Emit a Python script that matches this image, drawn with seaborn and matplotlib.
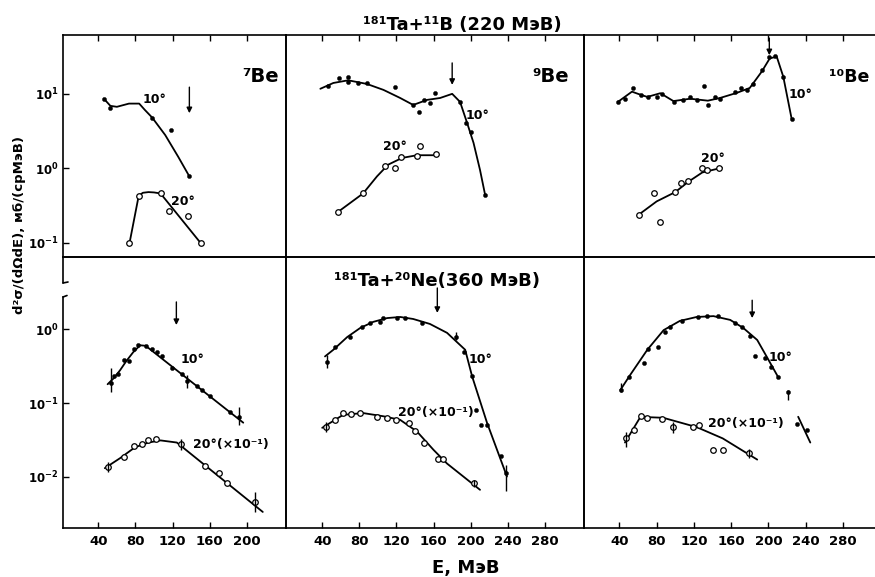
import matplotlib
matplotlib.use("Agg")
import matplotlib.pyplot as plt
from matplotlib.lines import Line2D
from matplotlib.ticker import NullLocator
import seaborn as sns

# ---------------- 181Ta + 11B (220 MeV) ----------------
# 7Be
b7_10_E = [46, 53, 98, 118, 138]
b7_10_y = [8.6, 6.5, 4.8, 3.3, 0.78]
b7_10_fitE = [46, 53, 60, 73, 84, 90, 98, 112, 126, 138]
b7_10_fit = [8.6, 6.9, 6.7, 7.4, 7.4, 6.1, 4.8, 2.8, 1.43, 0.78]
b7_20_E = [73.5, 83.5, 107, 116, 137, 150]
b7_20_y = [0.098, 0.43, 0.46, 0.27, 0.23, 0.10]
b7_20_fitE = [73.5, 83.5, 88, 94, 100, 107, 150]
b7_20_fit = [0.098, 0.43, 0.47, 0.48, 0.475, 0.46, 0.10]
b7_arrow_E = 138

# 9Be
b9_10_E = [46, 58, 68, 68, 79, 88, 118, 138, 144, 150, 156, 161, 188, 195, 200, 215]
b9_10_y = [12.8, 16.3, 17, 14.5, 14, 14, 12.4, 7.1, 5.7, 8.3, 7.6, 10.3, 7.8, 4.1, 3.1, 0.44]
b9_10_fitE = [38, 52, 68, 88, 106, 124, 138, 153, 167, 180, 188.5, 196, 203, 210, 215.5]
b9_10_fit = [11.7, 14, 15.2, 13.6, 11.3, 8.8, 7.1, 8.3, 8.8, 10, 7.8, 4.1, 2.2, 0.95, 0.44]
b9_20_E = [57, 84, 108, 118, 125, 142, 145, 163]
b9_20_y = [0.26, 0.46, 1.07, 1.0, 1.4, 1.45, 2.0, 1.55]
b9_20_fitE = [57, 84, 99, 111, 126, 142, 163, 165]
b9_20_fit = [0.26, 0.46, 0.78, 1.12, 1.38, 1.5, 1.5, 1.48]
b9_arrow_E = 180

# 10Be
b10_10_E = [39, 46, 55, 63, 71, 80, 86, 99, 108, 116, 123, 131, 135, 143, 148,
            164, 171, 177, 184, 193, 201, 207, 216, 225]
b10_10_y = [7.8, 8.6, 12, 9.7, 9.1, 9.1, 10, 7.8, 8.3, 9.1, 8.3, 12.8, 7.1, 9.1, 8.6,
            10.7, 12, 11.3, 13.6, 21, 31, 32, 17, 4.6]
b10_10_fitE = [39, 53.5, 63, 70, 84, 98, 116, 135, 148, 166, 180, 193, 201.5, 209, 216, 225]
b10_10_fit = [7.9, 10.7, 9.7, 9.1, 10.2, 8.0, 8.6, 8.1, 8.8, 10.3, 12, 20, 30, 31.5, 17, 4.6]
b10_20_E = [61, 77, 84, 100, 106, 114, 129, 134, 147]
b10_20_y = [0.24, 0.47, 0.19, 0.48, 0.63, 0.68, 1.0, 0.96, 1.0]
b10_20_fitE = [61, 80, 100, 114, 129, 150]
b10_20_fit = [0.24, 0.36, 0.48, 0.66, 0.88, 1.02]
b10_arrow_E = 201

# ---------------- 181Ta + 20Ne (360 MeV) ----------------
# 7Be
n7_10_E = [53.5, 57, 61, 67.5, 73, 78, 83, 91, 98, 103.5, 108.5, 119, 130, 135.5,
           146, 151.5, 160.5, 182, 191]
n7_10_y = [0.19, 0.23, 0.25, 0.39, 0.37, 0.54, 0.61, 0.59, 0.54, 0.49, 0.43, 0.30,
           0.25, 0.20, 0.17, 0.15, 0.126, 0.076, 0.065]
n7_10_fitE = [50, 57, 63.5, 70, 77.5, 85, 91, 196]
n7_10_fit = [0.18, 0.22, 0.28, 0.37, 0.49, 0.61, 0.60, 0.054]
n7_10_errE = [53.5, 135.5, 191]
n7_10_errlo = [0.14, 0.16, 0.05]
n7_10_errhi = [0.30, 0.24, 0.088]
n7_20_E = [50, 67.5, 78, 86.5, 94, 102, 128.5, 155, 170, 178, 209]
n7_20_y = [0.0134, 0.0186, 0.026, 0.028, 0.031, 0.032, 0.028, 0.0138, 0.011, 0.0081, 0.0045]
n7_20_fitE = [47, 63.5, 79.5, 94, 107, 124.5, 217]
n7_20_fit = [0.013, 0.0178, 0.025, 0.029, 0.031, 0.029, 0.0033]
n7_20_errE = [50, 128.5, 209]
n7_20_errlo = [0.0114, 0.023, 0.0033]
n7_20_errhi = [0.0157, 0.032, 0.0061]
n7_arrow_E = 124

# 9Be
n9_10_E = [45, 54, 70, 82.5, 91, 102, 106, 121, 129, 147, 184, 193, 201, 206, 211.5, 217, 233, 238.5]
n9_10_y = [0.36, 0.58, 0.79, 1.08, 1.22, 1.26, 1.43, 1.43, 1.43, 1.22, 0.79, 0.49,
           0.23, 0.080, 0.050, 0.051, 0.019, 0.011]
n9_10_fitE = [43, 52, 67, 81, 95, 110, 124, 138, 156, 174.5, 194, 201.5, 217.5, 239]
n9_10_fit = [0.43, 0.53, 0.79, 1.05, 1.27, 1.43, 1.48, 1.39, 1.19, 0.90, 0.53, 0.23, 0.054, 0.010]
n9_10_errE = [45, 184, 238.5]
n9_10_errlo = [0.30, 0.72, 0.0063]
n9_10_errhi = [0.45, 0.92, 0.0144]
n9_20_E = [44, 54, 62, 71, 80.5, 99, 109.5, 120, 133, 140, 149.5, 164.5, 170, 204]
n9_20_y = [0.047, 0.059, 0.073, 0.071, 0.073, 0.065, 0.063, 0.059, 0.054, 0.042,
           0.029, 0.0174, 0.0174, 0.0081]
n9_20_fitE = [40, 62.5, 84, 106, 124, 142, 160, 174.5, 210]
n9_20_fit = [0.046, 0.069, 0.073, 0.066, 0.059, 0.041, 0.023, 0.015, 0.0066]
n9_20_errE = [44, 204]
n9_20_errlo = [0.040, 0.0072]
n9_20_errhi = [0.055, 0.0090]
n9_arrow_E = 164

# 10Be
n10_10_E = [42, 50.5, 66.5, 71, 81.5, 89, 94.5, 107, 124.5, 134, 146, 164, 172, 180.5,
            186, 196.5, 203, 210.5, 221, 231, 241.5]
n10_10_y = [0.15, 0.225, 0.35, 0.54, 0.58, 0.93, 1.08, 1.31, 1.48, 1.53, 1.53, 1.22,
            1.08, 0.82, 0.44, 0.41, 0.31, 0.225, 0.141, 0.052, 0.043]
n10_10_fitE = [41, 51.5, 70, 87.5, 105, 123, 141, 159, 173, 188, 198.5, 210.5]
n10_10_fit = [0.15, 0.24, 0.53, 0.98, 1.31, 1.48, 1.52, 1.35, 1.05, 0.72, 0.42, 0.225]
n10_10_tailE = [232, 245]
n10_10_tail = [0.065, 0.029]
n10_10_errE = [42, 221]
n10_10_errlo = [0.14, 0.11]
n10_10_errhi = [0.19, 0.15]
n10_20_E = [47, 55.5, 63, 69.5, 85.5, 97.5, 119, 125.5, 140.5, 151, 179]
n10_20_y = [0.033, 0.043, 0.066, 0.063, 0.060, 0.047, 0.047, 0.051, 0.023, 0.023, 0.021]
n10_20_fitE = [46, 63, 73, 87, 123, 151, 188]
n10_20_fit = [0.029, 0.066, 0.064, 0.063, 0.047, 0.033, 0.017]
n10_20_errE = [47, 97.5, 179]
n10_20_errlo = [0.025, 0.039, 0.018]
n10_20_errhi = [0.040, 0.055, 0.024]
n10_arrow_E = 182.6

# ---------------- figure ----------------
sns.set_style("ticks")
plt.rcParams["font.family"] = ["DejaVu Sans"]
plt.rcParams["font.weight"] = "bold"
plt.rcParams["axes.linewidth"] = 1.2
for key in ("text.color", "axes.labelcolor", "xtick.color", "ytick.color",
            "axes.edgecolor"):
    plt.rcParams[key] = "black"

W, H = 875, 577
fig = plt.figure(figsize=(W / 100, H / 100), dpi=100)


def fx(px):
    return px / W


def fy(py):
    return 1 - py / H


col_px = [(63, 286), (286, 584), (584, 882)]
row_px = [(35, 257), (257, 528)]
xlims = [(2, 242), (1, 322), (2, 322)]
ylims = [(10 ** -1.19, 10 ** 1.79), (10 ** -2.70, 10 ** 0.986)]
xticks = [[40, 80, 120, 160, 200], [40, 80, 120, 160, 200, 240, 280],
          [40, 80, 120, 160, 200, 240, 280]]
yticks = [[10, 1, 0.1], [1, 0.1, 0.01]]
ylabels = [[r"$\mathbf{10^{1}}$", r"$\mathbf{10^{0}}$", r"$\mathbf{10^{-1}}$"],
           [r"$\mathbf{10^{0}}$", r"$\mathbf{10^{-1}}$", r"$\mathbf{10^{-2}}$"]]

panels = [
    dict(r=0, c=0, p10=(b7_10_E, b7_10_y), f10=(b7_10_fitE, b7_10_fit),
         p20=(b7_20_E, b7_20_y), f20=(b7_20_fitE, b7_20_fit),
         arrow=(b7_arrow_E, 12.3, 5.5), lab10=(101, 8.3), lab20=(131, 0.355),
         t20="20°", iso=("⁷Be", 195, 17, 14)),
    dict(r=0, c=1, p10=(b9_10_E, b9_10_y), f10=(b9_10_fitE, b9_10_fit),
         p20=(b9_20_E, b9_20_y), f20=(b9_20_fitE, b9_20_fit),
         arrow=(b9_arrow_E, 26, 13.2), lab10=(207, 5.2), lab20=(118, 1.95),
         t20="20°", iso=("⁹Be", 266, 17, 14)),
    dict(r=0, c=2, p10=(b10_10_E, b10_10_y), f10=(b10_10_fitE, b10_10_fit),
         p20=(b10_20_E, b10_20_y), f20=(b10_20_fitE, b10_20_fit),
         arrow=(b10_arrow_E, 56, 33), lab10=(234, 9.8), lab20=(140, 1.35),
         t20="20°", iso=("¹⁰Be", 265, 17, 12.5)),
    dict(r=1, c=0, p10=(n7_10_E, n7_10_y), f10=(n7_10_fitE, n7_10_fit),
         p20=(n7_20_E, n7_20_y), f20=(n7_20_fitE, n7_20_fit),
         e10=(n7_10_errE, n7_10_errlo, n7_10_errhi), e20=(n7_20_errE, n7_20_errlo, n7_20_errhi),
         arrow=(n7_arrow_E, 2.37, 1.15), lab10=(141, 0.385), lab20=(142, 0.027),
         t20="20°(×10⁻¹)"),
    dict(r=1, c=1, p10=(n9_10_E, n9_10_y), f10=(n9_10_fitE, n9_10_fit),
         p20=(n9_20_E, n9_20_y), f20=(n9_20_fitE, n9_20_fit),
         e10=(n9_10_errE, n9_10_errlo, n9_10_errhi), e20=(n9_20_errE, n9_20_errlo, n9_20_errhi),
         arrow=(n9_arrow_E, 3.67, 1.68), lab10=(210, 0.385), lab20=(122, 0.075),
         t20="20°(×10⁻¹)"),
    dict(r=1, c=2, p10=(n10_10_E, n10_10_y), f10=(n10_10_fitE, n10_10_fit),
         p20=(n10_20_E, n10_20_y), f20=(n10_20_fitE, n10_20_fit),
         e10=(n10_10_errE, n10_10_errlo, n10_10_errhi),
         e20=(n10_20_errE, n10_20_errlo, n10_20_errhi),
         tail=(n10_10_tailE, n10_10_tail),
         arrow=(n10_arrow_E, 2.5, 1.43), lab10=(212.5, 0.42), lab20=(135, 0.053),
         t20="20°(×10⁻¹)"),
]

axes = {}
for p in panels:
    r, c = p["r"], p["c"]
    (x0, x1), (y0, y1) = col_px[c], row_px[r]
    ax = fig.add_axes([fx(x0), fy(y1), (x1 - x0) / W, (y1 - y0) / H])
    ax.set_facecolor("none")
    ax.set_yscale("log")
    axes[(r, c)] = ax

    # fitted curves
    for fit in (p["f10"], p["f20"]) + ((p["tail"],) if "tail" in p else ()):
        sns.lineplot(x=fit[0], y=fit[1], ax=ax, color="k", lw=1.3,
                     sort=False, estimator=None)
    # measured points: 10 deg filled, 20 deg open
    sns.scatterplot(x=p["p10"][0], y=p["p10"][1], ax=ax, color="k", s=9,
                    edgecolor="k", linewidth=0.3, zorder=3)
    sns.scatterplot(x=p["p20"][0], y=p["p20"][1], ax=ax, color="white", s=16,
                    edgecolor="k", linewidth=0.9, zorder=3)
    for key in ("e10", "e20"):
        if key in p:
            eE, elo, ehi = p[key]
            ax.vlines(eE, elo, ehi, color="k", lw=1.0, zorder=3)

    # kinematic-limit arrow
    aE, atop, abot = p["arrow"]
    ax.annotate("", xy=(aE, abot), xytext=(aE, atop),
                arrowprops=dict(arrowstyle="-|>", color="k", lw=1.0,
                                mutation_scale=8, shrinkA=0, shrinkB=0))

    ax.text(*p["lab10"], "10°", ha="center", va="center", fontsize=9,
            fontweight="bold", color="k")
    ax.text(*p["lab20"], p["t20"], ha="left" if r == 1 else "center", va="center",
            fontsize=9, fontweight="bold", color="k")
    if "iso" in p:
        t, ix, iy, fs = p["iso"]
        ax.text(ix, iy, t, ha="left", va="center", fontsize=fs,
                fontweight="bold", color="k")

    ax.set_xlim(*xlims[c])
    ax.set_ylim(*ylims[r])
    ax.set_xticks(xticks[c])
    ax.xaxis.set_minor_locator(NullLocator())
    ax.yaxis.set_minor_locator(NullLocator())
    ax.tick_params(direction="in", length=4, width=1.0, colors="k",
                   labelcolor="k", labelsize=9.5, pad=5)
    if r == 0:
        ax.tick_params(axis="x", top=True, bottom=False, labelbottom=False)
    else:
        ax.tick_params(axis="x", top=False, bottom=True, labelbottom=True)
        for lab in ax.get_xticklabels():
            lab.set_fontweight("bold")
    if c == 0:
        ax.set_yticks(yticks[r])
        ax.set_yticklabels(ylabels[r])
        ax.tick_params(axis="y", left=True, right=False, pad=3, labelsize=8.5)
    else:
        ax.set_yticks([])
        ax.tick_params(axis="y", left=False, labelleft=False)
    ax.set_xlabel("")
    ax.set_ylabel("")
    for s in ax.spines.values():
        s.set_visible(True)
        s.set_color("k")

# broken left axis between the two rows
axes[(1, 0)].spines["left"].set_bounds(ylims[1][0], 10 ** 0.442)
brk = dict(color="k", lw=1.2)
fig.add_artist(Line2D([fx(63), fx(63)], [fy(257), fy(283)], **brk))
fig.add_artist(Line2D([fx(63), fx(68)], [fy(283), fy(282)], **brk))
fig.add_artist(Line2D([fx(63), fx(67)], [fy(297), fy(295.5)], **brk))

# second reaction title inside the bottom-middle panel
axes[(1, 1)].text(164, 4.6, "¹⁸¹Ta+²⁰Ne(360 МэВ)", ha="center", va="center",
                  fontsize=13, fontweight="bold", color="k")

fig.text(fx(462), fy(30), "¹⁸¹Ta+¹¹B (220 МэВ)", ha="center", va="baseline",
         fontsize=13, fontweight="bold", color="k")
fig.text(fx(466), fy(568), "E, МэВ", ha="center", va="center",
         fontsize=13, fontweight="bold", color="k")
fig.text(fx(20), fy(225), "d²σ/(dΩdE), мб/(срМэВ)", ha="center", va="center",
         rotation=90, fontsize=9.5, fontweight="bold", color="k")

fig.savefig("out.png", dpi=100)
